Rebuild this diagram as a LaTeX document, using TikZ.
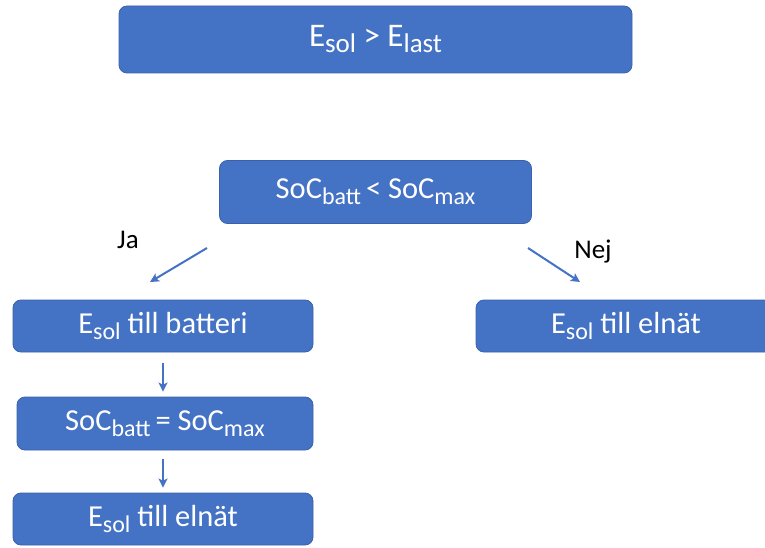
\documentclass[tikz,border=0pt]{standalone}
\usepackage{fontspec}
\setmainfont{Carlito}
\usetikzlibrary{arrows.meta}
\definecolor{boxblue}{HTML}{4472C4}
\definecolor{boxedge}{HTML}{3A62AC}
\tikzset{
  box/.style={fill=boxblue, draw=boxedge, line width=0.8pt, rounded corners=8pt,
    text=white, font=\fontsize{30.5}{33}\selectfont, inner sep=0pt},
  arr/.style={draw=boxblue, line width=2pt, -{Stealth[length=9pt,width=9pt,inset=2pt]}},
  lbl/.style={font=\fontsize{27}{30}\selectfont, text=black, inner sep=0pt}
}
\newcommand{\sbs}[2][24]{\raisebox{-6pt}{\fontsize{#1}{#1}\selectfont #2}}
\begin{document}
\begin{tikzpicture}[x=1pt,y=1pt]
\useasboundingbox (0,0) rectangle (765,547);
\clip (0,0) rectangle (765,547);
\node[box, font=\fontsize{33}{36}\selectfont, minimum width=513pt, minimum height=67pt] (top) at (375.5,507.5) {E\sbs[27]{sol} > E\sbs[27]{last}};
\node[box, minimum width=312pt, minimum height=63pt] (soc) at (375.5,355) {SoC\sbs{batt}\kern-2pt\ < SoC\sbs{max}};
\node[box, minimum width=300pt, minimum height=52pt] (bat) at (163,221) {E\sbs{sol} till batteri};
\node[box, minimum width=300pt, minimum height=52pt] (eln) at (626,221) {E\sbs{sol} till elnät};
\node[box, minimum width=296pt, minimum height=53pt] (eq) at (165,123.5) {SoC\sbs{batt}\kern-2pt\ = SoC\sbs{max}};
\node[box, minimum width=300pt, minimum height=52pt] (bot) at (163,28) {E\sbs{sol} till elnät};
\node[lbl] (ja) at (128,307) {Ja};
\node[lbl] (nej) at (593,295) {Nej};
\coordinate (ja1) at (207,299);
\coordinate (ja2) at (150,265);
\coordinate (nej1) at (528,299);
\coordinate (nej2) at (580,265);
\draw[arr] (ja1) -- (ja2);
\draw[arr] (nej1) -- (nej2);
\draw[arr] ([yshift=-11pt]bat.south) -- ([yshift=5pt]bat.south |- eq.north);
\draw[arr] ([yshift=-9pt]bat.south |- eq.south) -- ([yshift=5pt]bot.north);
\end{tikzpicture}
\end{document}
